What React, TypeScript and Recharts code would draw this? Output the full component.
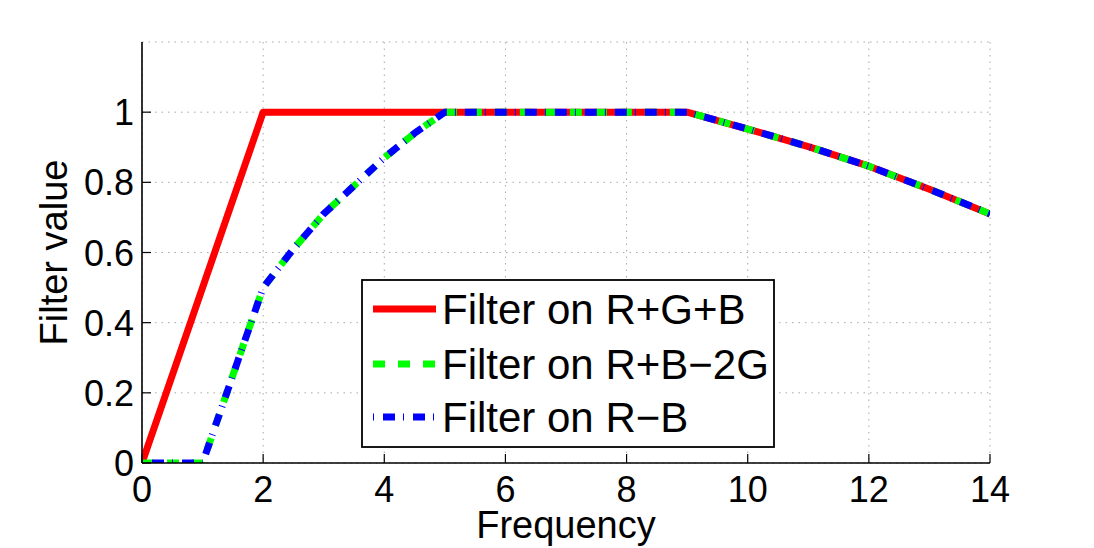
import React from 'react';
import { LineChart, Line, XAxis, YAxis, CartesianGrid, Legend } from 'recharts';

// Frequency ticks and filter-value ticks
const xTicks = [0, 2, 4, 6, 8, 10, 12, 14];
const yTicks = [0, 0.2, 0.4, 0.6, 0.8, 1];

// Filter on R+G+B
const sumFreq = [0, 2, 9, 10, 11, 12, 13, 14];
const sumValue = [0, 1, 1, 0.952, 0.902, 0.846, 0.78, 0.71];

// Filters on the chroma channels share the same frequency samples
const chromaFreq = [0, 1, 2, 2.5, 3, 3.5, 4, 4.5, 5, 9, 10, 11, 12, 13, 14];
const rbMinus2gValue = [0, 0, 0.5, 0.61, 0.71, 0.79, 0.87, 0.94, 1, 1, 0.952, 0.902, 0.846, 0.78, 0.71];
const rMinusBValue = [0, 0, 0.5, 0.61, 0.71, 0.79, 0.87, 0.94, 1, 1, 0.952, 0.902, 0.846, 0.78, 0.71];

const seriesNames = ['Filter on R+G+B', 'Filter on R+B\u22122G', 'Filter on R\u2212B'];

const FONT = '"Liberation Sans", Arial, Helvetica, sans-serif';
const TICK_LEN = 9;

const toRows = (xs: number[], ys: number[]) => xs.map((x, i) => ({ x, v: ys[i] }));

const sumData = toRows(sumFreq, sumValue);
const rbgData = toRows(chromaFreq, rbMinus2gValue);
const rbData = toRows(chromaFreq, rMinusBValue);

const styles = [
  { color: '#ff0000', dash: undefined as string | undefined },
  { color: '#00ff00', dash: '12 13' },
  { color: '#0000ff', dash: '1 9 12 8' },
];

const BottomTick = (props: any) => {
  const { x, y, payload } = props;
  return (
    <g>
      <line x1={x} x2={x} y1={y} y2={y - TICK_LEN} stroke="#000" strokeWidth={1.2} />
      <text x={x} y={y + 39} textAnchor="middle" fontSize={36} fontFamily={FONT} fill="#000">
        {payload.value}
      </text>
    </g>
  );
};

const TopTick = (props: any) => {
  const { x, y } = props;
  return <line x1={x} x2={x} y1={y} y2={y + TICK_LEN} stroke="#000" strokeWidth={1.2} />;
};

const LeftTick = (props: any) => {
  const { x, y, payload } = props;
  return (
    <g>
      <line x1={x} x2={x + TICK_LEN} y1={y} y2={y} stroke="#000" strokeWidth={1.2} />
      <text x={x - 8} y={y + 13} textAnchor="end" fontSize={36} fontFamily={FONT} fill="#000">
        {payload.value}
      </text>
    </g>
  );
};

const RightTick = (props: any) => {
  const { x, y } = props;
  return <line x1={x} x2={x - TICK_LEN} y1={y} y2={y} stroke="#000" strokeWidth={1.2} />;
};

const XTitle = (props: any) => {
  const vb = props.viewBox;
  return (
    <text x={vb.x + vb.width / 2} y={vb.y + 75} textAnchor="middle" fontSize={38} fontFamily={FONT} fill="#000">
      Frequency
    </text>
  );
};

const YTitle = (props: any) => {
  const vb = props.viewBox;
  const cx = vb.x + 67;
  const cy = vb.y + vb.height / 2;
  return (
    <text
      x={cx}
      y={cy}
      transform={`rotate(-90 ${cx} ${cy})`}
      textAnchor="middle"
      fontSize={38}
      fontFamily={FONT}
      fill="#000"
    >
      Filter value
    </text>
  );
};

const renderLegend = () => (
  <svg width={414} height={169} style={{ display: 'block' }}>
    <rect x={1} y={1} width={412} height={167} fill="#fff" stroke="#000" strokeWidth={1.8} />
    {seriesNames.map((name, i) => {
      const cy = [30, 85, 138][i];
      return (
        <g key={name}>
          <line
            x1={12}
            x2={75}
            y1={cy}
            y2={cy}
            stroke={styles[i].color}
            strokeWidth={7}
            strokeDasharray={styles[i].dash}
          />
          <text x={81} y={cy + 15} fontSize={42} fontFamily={FONT} fill="#000">
            {name}
          </text>
        </g>
      );
    })}
  </svg>
);

export default function App() {
  return (
    <div style={{ position: 'absolute', left: 0, top: 0, width: 1094, height: 548, background: '#fff' }}>
      <LineChart width={1094} height={548} margin={{ top: 42, right: 104, bottom: 0, left: 0 }}>
        <CartesianGrid stroke="#a8a8a8" strokeWidth={1} strokeDasharray="1.5 5" />
        <XAxis
          dataKey="x"
          type="number"
          domain={[0, 14]}
          ticks={xTicks}
          interval={0}
          allowDataOverflow
          height={85}
          tickSize={0}
          tickMargin={0}
          axisLine={{ stroke: '#000', strokeWidth: 1.6 }}
          tick={<BottomTick />}
          label={<XTitle />}
        />
        <XAxis
          xAxisId="top"
          orientation="top"
          dataKey="x"
          type="number"
          domain={[0, 14]}
          ticks={xTicks}
          interval={0}
          allowDataOverflow
          height={0}
          tickSize={0}
          tickMargin={0}
          axisLine={{ stroke: '#000', strokeWidth: 1.6 }}
          tick={<TopTick />}
        />
        <YAxis
          type="number"
          domain={[0, 1.2]}
          ticks={yTicks}
          interval={0}
          allowDataOverflow
          width={142}
          tickSize={0}
          tickMargin={0}
          axisLine={{ stroke: '#000', strokeWidth: 1.6 }}
          tick={<LeftTick />}
          label={<YTitle />}
        />
        <YAxis
          yAxisId="right"
          orientation="right"
          type="number"
          domain={[0, 1.2]}
          ticks={yTicks}
          interval={0}
          allowDataOverflow
          width={0}
          tickSize={0}
          tickMargin={0}
          axisLine={{ stroke: '#000', strokeWidth: 1.6 }}
          tick={<RightTick />}
        />
        <Legend
          layout="horizontal"
          verticalAlign="middle"
          align="center"
          content={renderLegend}
          wrapperStyle={{ left: 361, top: 279, width: 414, height: 169 }}
        />
        <Line
          data={sumData}
          dataKey="v"
          name={seriesNames[0]}
          type="linear"
          stroke={styles[0].color}
          strokeWidth={7}
          strokeLinejoin="round"
          dot={false}
          activeDot={false}
          isAnimationActive={false}
        />
        <Line
          data={rbgData}
          dataKey="v"
          name={seriesNames[1]}
          type="linear"
          stroke={styles[1].color}
          strokeWidth={7}
          strokeDasharray={styles[1].dash}
          strokeLinejoin="round"
          dot={false}
          activeDot={false}
          isAnimationActive={false}
        />
        <Line
          data={rbData}
          dataKey="v"
          name={seriesNames[2]}
          type="linear"
          stroke={styles[2].color}
          strokeWidth={7}
          strokeDasharray={styles[2].dash}
          strokeLinejoin="round"
          dot={false}
          activeDot={false}
          isAnimationActive={false}
        />
      </LineChart>
    </div>
  );
}
